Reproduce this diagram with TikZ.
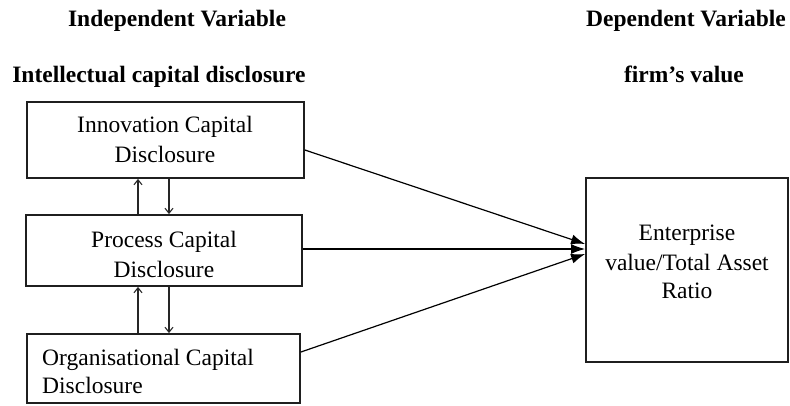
\documentclass[tikz,border=0pt]{standalone}
\usepackage{fontspec}
\setmainfont{Liberation Serif}
\usetikzlibrary{arrows.meta}
\begin{document}
\begin{tikzpicture}[x=1pt,y=-1pt,
  box/.style={draw=black!88,line width=1.8pt,rectangle,inner sep=0pt},
  txt/.style={inner sep=0pt,anchor=base,font=\fontsize{23.5}{29}\selectfont},
  head/.style={txt,font=\fontsize{23.5}{29}\selectfont\bfseries},
  link/.style={draw=black,line width=1.2pt,-{Latex[length=14pt,width=10pt]}},
  varr/.style={draw=black!85,line width=1.1pt,-{Straight Barb[length=5pt,width=8pt]}}]
\useasboundingbox (0,0) rectangle (790,405);
% headings
\node[head] (hind) at (177,26) {Independent Variable};
\node[head] (hicd) at (159,82) {Intellectual capital disclosure};
\node[head] (hdep) at (686,26) {Dependent Variable};
\node[head] (hfv) at (684,82) {firm’s value};
% boxes
\node[box,minimum width=277pt,minimum height=76pt] (b1) at (165.5,140) {};
\node[box,minimum width=276pt,minimum height=71pt] (b2) at (164,250.5) {};
\node[box,minimum width=273pt,minimum height=69pt] (b3) at (163.5,368.5) {};
\node[box,minimum width=202pt,minimum height=184pt] (b4) at (687,270) {};
% box texts
\node[txt] (t11) at (165,132) {Innovation Capital};
\node[txt] (t12) at (165,162) {Disclosure};
\node[txt] (t21) at (164,247) {Process Capital};
\node[txt] (t22) at (164,277) {Disclosure};
\node[txt,anchor=base west] (t31) at (42,365) {Organisational Capital};
\node[txt,anchor=base west] (t32) at (42,393) {Disclosure};
\node[txt] (t41) at (687,240) {Enterprise};
\node[txt] (t42) at (687,270) {value/Total Asset};
\node[txt] (t43) at (687,298) {Ratio};
% vertical arrows
\coordinate (ux) at (138,0);
\coordinate (dx) at (169,0);
\draw[varr] (b2.north -| ux) -- (b1.south -| ux);
\draw[varr] (b1.south -| dx) -- (b2.north -| dx);
\draw[varr] (b3.north -| ux) -- (b2.south -| ux);
\draw[varr] (b2.south -| dx) -- (b3.north -| dx);
% links to dependent variable
\draw[link] (b1.east |- 0,150) -- (b4.west |- 0,244);
\draw[link] (b2.east |- 0,249) -- (b4.west |- 0,249);
\draw[link] (b3.east |- 0,352) -- (b4.west |- 0,254);
\end{tikzpicture}
\end{document}
